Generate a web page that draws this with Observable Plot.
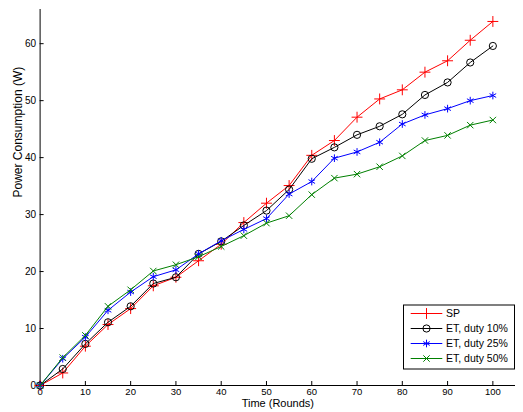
<!DOCTYPE html>
<html><head><meta charset="utf-8">
<script src="https://cdn.jsdelivr.net/npm/d3@7"></script>
<script src="https://cdn.jsdelivr.net/npm/@observablehq/plot@0.6"></script>
<style>body{margin:0;background:#fff;} #chart{width:523px;height:412px;}</style>
</head><body><div id="chart"></div>
<script>
const rounds = [0,5,10,15,20,25,30,35,40,45,50,55,60,65,70,75,80,85,90,95,100];
const sp     = [0,2.2,6.9,10.7,13.5,17.5,19.0,21.9,24.8,28.6,32.0,35.1,40.4,43.0,47.1,50.3,51.9,55.0,57.0,60.6,63.9];
const et10   = [0,2.9,7.3,11.1,13.9,17.9,19.0,23.1,25.3,28.1,30.7,34.4,39.8,41.8,44.0,45.5,47.6,51.0,53.2,56.7,59.6];
const et25   = [0,4.7,8.5,13.2,16.4,19.1,20.3,23.1,25.4,27.4,29.3,33.6,35.8,39.9,41.0,42.7,45.9,47.5,48.6,50.0,50.9];
const et50   = [0,4.9,8.8,13.9,16.8,20.1,21.2,22.6,24.4,26.3,28.5,29.8,33.5,36.4,37.1,38.4,40.3,43.0,43.9,45.7,46.6];
const seriesNames = ["SP","ET, duty 10%","ET, duty 25%","ET, duty 50%"];
const seriesColors = ["#ff0000","#000000","#0000ff","#008000"];
const seriesSymbols = ["plus","circle","asterisk","times"];
const xTicks = [0,10,20,30,40,50,60,70,80,90,100];
const yTicks = [0,10,20,30,40,50,60];
const xLabel = "Time (Rounds)";
const yLabel = "Power Consumption (W)";

const allValues = [sp, et10, et25, et50];
const rows = [];
allValues.forEach((vals, s) => vals.forEach((v, i) => rows.push({series: seriesNames[s], x: rounds[i], y: v})));

const font = "'Liberation Sans', Arial, Helvetica, sans-serif";
const marks = [
  Plot.ruleY([0], {stroke: "#000"}),
  Plot.ruleX([0], {stroke: "#000"}),
  // inward tick marks
  Plot.ruleX(xTicks, {x: d => d, y1: 0, y2: 0, insetTop: -4, stroke: "#000", strokeWidth: 1}),
  Plot.ruleY(yTicks, {y: d => d, x1: 0, x2: 0, insetRight: -4, stroke: "#000", strokeWidth: 1}),
  Plot.axisX({ticks: xTicks, tickSize: 0, tickPadding: 2.5, label: null, fontSize: 9.5}),
  Plot.axisY({ticks: yTicks, tickSize: 0, tickPadding: 4, label: null, fontSize: 10}),
  Plot.text([xLabel], {frameAnchor: "bottom", dy: 21, fontSize: 11}),
  Plot.text([yLabel], {frameAnchor: "left", rotate: -90, dx: -22, fontSize: 12})
];
seriesNames.forEach((name, s) => {
  const d = rows.filter(r => r.series === name);
  marks.push(Plot.line(d, {x: "x", y: "y", stroke: "series", strokeWidth: 1}));
  marks.push(Plot.dot(d, {x: "x", y: "y", stroke: "series", symbol: "series", r: s === 3 ? 3 : 3.6, strokeWidth: 1}));
});

const chart = Plot.plot({
  width: 523, height: 412,
  marginLeft: 39.6, marginRight: 8, marginTop: 9, marginBottom: 27,
  style: {fontFamily: font, fontSize: "10px", background: "#fff", color: "#000"},
  x: {domain: [0,105]},
  y: {domain: [0,66]},
  color: {domain: seriesNames, range: seriesColors},
  symbol: {domain: seriesNames, range: seriesSymbols},
  marks
});
document.getElementById("chart").appendChild(chart);

// legend inside the plot SVG
const svg = d3.select(chart.tagName === "svg" ? chart : chart.querySelector("svg"));
const lg = svg.append("g").attr("font-family", font).attr("font-size", "10.5px").attr("text-anchor", "start");
const lx = 403.5, ly = 305, lw = 111, lh = 64;
lg.append("rect").attr("x", lx).attr("y", ly).attr("width", lw).attr("height", lh)
  .attr("fill", "#fff").attr("stroke", "#000").attr("stroke-width", 1);
const symMap = {plus: d3.symbolPlus, circle: d3.symbolCircle, asterisk: d3.symbolAsterisk, times: d3.symbolTimes};
seriesNames.forEach((name, s) => {
  const yy = ly + 8.5 + s * 15;
  lg.append("line").attr("x1", 410.7).attr("x2", 442.3).attr("y1", yy).attr("y2", yy)
    .attr("stroke", seriesColors[s]).attr("stroke-width", 1);
  const r = s === 3 ? 3 : 3.6;
  lg.append("path").attr("d", d3.symbol(symMap[seriesSymbols[s]], Math.PI * r * r)())
    .attr("transform", `translate(426.5,${yy})`).attr("fill", "none")
    .attr("stroke", seriesColors[s]).attr("stroke-width", 1);
  lg.append("text").attr("x", 446).attr("y", yy).attr("dy", "0.35em").attr("text-anchor", "start")
    .attr("fill", "#000").text(name);
});
</script></body></html>
